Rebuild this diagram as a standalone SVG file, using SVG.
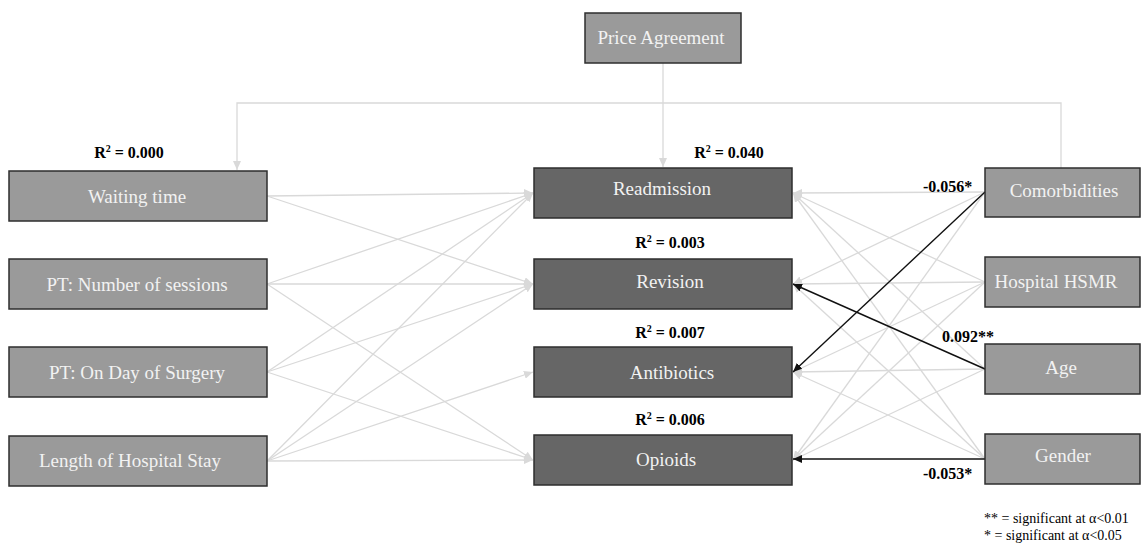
<svg xmlns="http://www.w3.org/2000/svg" width="1148" height="546" viewBox="0 0 1148 546">
<style>
.box{fill:#9a9a9a;stroke:#2e2e2e;stroke-width:1.5}
.dark{fill:#666666;stroke:#2e2e2e;stroke-width:1.5}
.lbl{font-family:"Liberation Serif",serif;font-size:19px;fill:#f2f2f2;text-anchor:middle}
.r2{font-family:"Liberation Serif",serif;font-size:16px;font-weight:bold;fill:#000;text-anchor:middle}
.coef{font-family:"Liberation Serif",serif;font-size:16px;font-weight:bold;fill:#000}
.leg{font-family:"Liberation Serif",serif;font-size:14px;fill:#000}
.g{stroke:#d9d9d9;stroke-width:1.3;fill:none;marker-end:url(#ag)}
.k{stroke:#111;stroke-width:1.4;fill:none;marker-end:url(#ak)}
</style>
<defs>
<marker id="ag" markerUnits="userSpaceOnUse" markerWidth="10" markerHeight="8" refX="9" refY="4" orient="auto"><path d="M0,0 L9,4 L0,8 Z" fill="#d9d9d9"/></marker>
<marker id="ak" markerUnits="userSpaceOnUse" markerWidth="10" markerHeight="8" refX="9" refY="4" orient="auto"><path d="M0,0 L9,4 L0,8 Z" fill="#111"/></marker>
</defs>
<rect width="1148" height="546" fill="#ffffff"/>
<g id="connectors">
<path class="g" d="M1061,168 V103 H237 V170"/>
<line class="g" x1="663" y1="63" x2="663" y2="167"/>
<line class="g" x1="267" y1="196" x2="533" y2="193"/>
<line class="g" x1="267" y1="196" x2="533" y2="284"/>
<line class="g" x1="267" y1="284" x2="533" y2="193"/>
<line class="g" x1="267" y1="284" x2="533" y2="284"/>
<line class="g" x1="267" y1="284" x2="533" y2="460"/>
<line class="g" x1="267" y1="372" x2="533" y2="193"/>
<line class="g" x1="267" y1="372" x2="533" y2="284"/>
<line class="g" x1="267" y1="372" x2="533" y2="460"/>
<line class="g" x1="267" y1="461" x2="533" y2="193"/>
<line class="g" x1="267" y1="461" x2="533" y2="284"/>
<line class="g" x1="267" y1="461" x2="533" y2="372"/>
<line class="g" x1="267" y1="461" x2="533" y2="460"/>
<line class="g" x1="985" y1="192" x2="793" y2="193"/>
<line class="g" x1="985" y1="192" x2="793" y2="284"/>
<line class="g" x1="985" y1="192" x2="793" y2="460"/>
<line class="g" x1="985" y1="282" x2="793" y2="193"/>
<line class="g" x1="985" y1="282" x2="793" y2="284"/>
<line class="g" x1="985" y1="282" x2="793" y2="372"/>
<line class="g" x1="985" y1="282" x2="793" y2="460"/>
<line class="g" x1="985" y1="369" x2="793" y2="193"/>
<line class="g" x1="985" y1="369" x2="793" y2="372"/>
<line class="g" x1="985" y1="369" x2="793" y2="460"/>
<line class="g" x1="985" y1="459" x2="793" y2="193"/>
<line class="g" x1="985" y1="459" x2="793" y2="284"/>
<line class="g" x1="985" y1="459" x2="793" y2="372"/>
<line class="k" x1="985" y1="192" x2="793" y2="372"/>
<line class="k" x1="985" y1="369" x2="793" y2="284"/>
<line class="k" x1="985" y1="459" x2="793" y2="459"/>
</g>
<g id="price-agreement"><rect class="box" x="585" y="13" width="156" height="50"/><text class="lbl" x="661" y="44">Price Agreement</text></g>
<g id="waiting-time"><rect class="box" x="9" y="171" width="258" height="50"/><text class="lbl" x="137" y="203">Waiting time</text></g>
<g id="pt-sessions"><rect class="box" x="9" y="259" width="258" height="50"/><text class="lbl" x="137" y="291">PT: Number of sessions</text></g>
<g id="pt-day"><rect class="box" x="9" y="347" width="258" height="50"/><text class="lbl" x="137" y="379">PT: On Day of Surgery</text></g>
<g id="length-stay"><rect class="box" x="9" y="436" width="258" height="50"/><text class="lbl" x="130" y="467">Length of Hospital Stay</text></g>
<g id="readmission"><rect class="dark" x="534" y="168" width="258" height="50"/><text class="lbl" x="662" y="195">Readmission</text></g>
<g id="revision"><rect class="dark" x="534" y="259" width="258" height="50"/><text class="lbl" x="670" y="288">Revision</text></g>
<g id="antibiotics"><rect class="dark" x="534" y="347" width="258" height="50"/><text class="lbl" x="672" y="379">Antibiotics</text></g>
<g id="opioids"><rect class="dark" x="534" y="435" width="258" height="50"/><text class="lbl" x="666" y="466">Opioids</text></g>
<g id="comorbidities"><rect class="box" x="985" y="168" width="155" height="49"/><text class="lbl" x="1064" y="197">Comorbidities</text></g>
<g id="hsmr"><rect class="box" x="985" y="257" width="155" height="50"/><text class="lbl" x="1056" y="288">Hospital HSMR</text></g>
<g id="age"><rect class="box" x="985" y="344" width="155" height="50"/><text class="lbl" x="1061" y="374">Age</text></g>
<g id="gender"><rect class="box" x="985" y="434" width="155" height="50"/><text class="lbl" x="1063" y="462">Gender</text></g>
<g id="labels">
<text class="r2" x="129" y="158">R<tspan font-size="10" dy="-6">2</tspan><tspan dy="6"> = 0.000</tspan></text>
<text class="r2" x="729" y="158">R<tspan font-size="10" dy="-6">2</tspan><tspan dy="6"> = 0.040</tspan></text>
<text class="r2" x="670" y="248">R<tspan font-size="10" dy="-6">2</tspan><tspan dy="6"> = 0.003</tspan></text>
<text class="r2" x="670" y="338">R<tspan font-size="10" dy="-6">2</tspan><tspan dy="6"> = 0.007</tspan></text>
<text class="r2" x="670" y="425">R<tspan font-size="10" dy="-6">2</tspan><tspan dy="6"> = 0.006</tspan></text>
<text class="coef" x="923" y="192">-0.056*</text>
<text class="coef" x="942" y="342">0.092**</text>
<text class="coef" x="923" y="479">-0.053*</text>
<text class="leg" x="984" y="523">** = significant at α&lt;0.01</text>
<text class="leg" x="984" y="540">* = significant at α&lt;0.05</text>
</g>
</svg>
